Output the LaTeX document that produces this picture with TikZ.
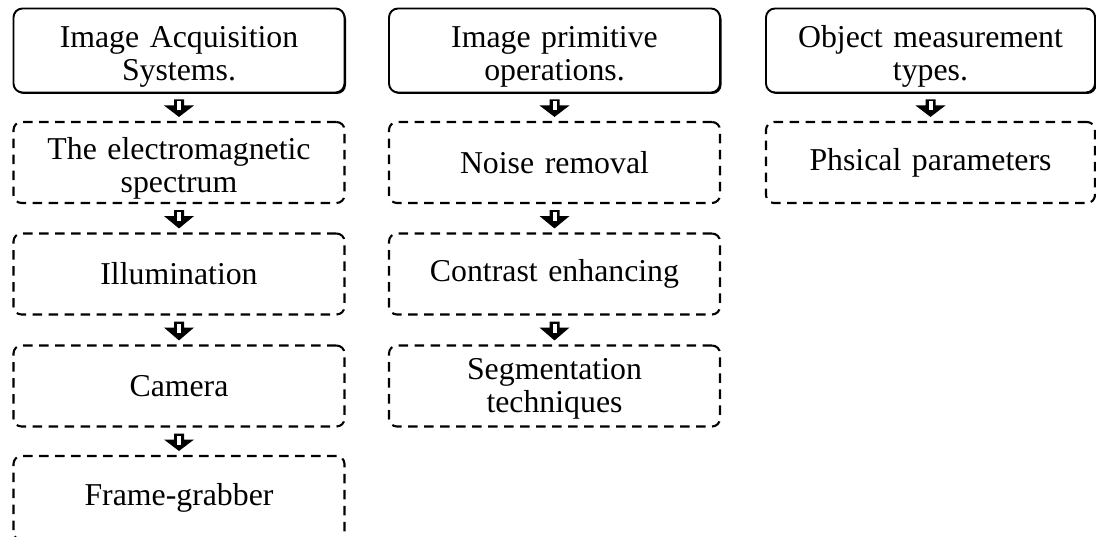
\documentclass[tikz,border=0pt]{standalone}
\usepackage{fontspec}
\setmainfont{Liberation Serif}
\usetikzlibrary{calc,shadows}

\tikzset{
  boxtext/.style={font=\fontsize{31.8}{33}\selectfont, align=center, text width=322pt, inner sep=0pt},
  headbox/.style={boxtext, draw, line width=1.9pt, rounded corners=9pt, fill=white,
    minimum width=331pt, minimum height=84pt,
    drop shadow={shadow xshift=1.5pt, shadow yshift=-1.5pt, fill=black, opacity=1}},
  stepbox/.style={boxtext, draw, line width=2.1pt, dash pattern=on 9.5pt off 6.5pt,
    rounded corners=8pt, minimum width=331pt, minimum height=81pt},
  tiphead/.style={fill=black},
  tipcore/.style={fill=white}
}

% block arrow from the bottom of one box to the top of the next
\newcommand\flowto[2]{%
  \path[tiphead] ($(#1.south)+(-5pt,-6pt)$) -- ($(#1.south)+(5pt,-6pt)$)
      -- ($(#1.south)+(5pt,-12pt)$) -- ($(#1.south)+(15pt,-12pt)$)
      -- ($(#2.north)+(0,4pt)$) -- ($(#1.south)+(-15pt,-12pt)$)
      -- ($(#1.south)+(-5pt,-12pt)$) -- cycle;
  \path[tipcore] ($(#1.south)+(-2pt,-8pt)$) rectangle ($(#1.south)+(2pt,-17pt)$);
}

\begin{document}
\begin{tikzpicture}[x=1pt,y=1pt]
\useasboundingbox (0,0) rectangle (1096,-537);

% column 1
\node[headbox] (acq) at (179,-50.5) {\mbox{}\\Image Acquisition\\Systems.};
\node[stepbox] (em)  at (179,-162.5) {\mbox{}\\The electromagnetic\\spectrum};
\node[stepbox] (ill) at (179,-274) {Illumination};
\node[stepbox] (cam) at (179,-386) {Camera};
\node[stepbox, minimum height=84pt] (fg) at (179,-498) {Frame-grabber};

% column 2
\node[headbox] (prim) at (554.5,-50.5) {\mbox{}\\Image primitive\\operations.};
\node[stepbox] (noise) at (554.5,-162.5) {Noise removal};
\node[stepbox] (con)   at (554.5,-274) {Contrast enhancing};
\node[stepbox] (seg)   at (554.5,-386) {\mbox{}\\[-6pt]Segmentation\\techniques};

% column 3
\node[headbox, minimum width=329pt] (meas) at (930.5,-50.5) {\mbox{}\\Object measurement\\types.};
\node[stepbox, minimum width=329pt] (phys) at (930.5,-162.5) {Phsical parameters};

% connectors
\flowto{acq}{em}
\flowto{em}{ill}
\flowto{ill}{cam}
\flowto{cam}{fg}
\flowto{prim}{noise}
\flowto{noise}{con}
\flowto{con}{seg}
\flowto{meas}{phys}
\end{tikzpicture}
\end{document}
